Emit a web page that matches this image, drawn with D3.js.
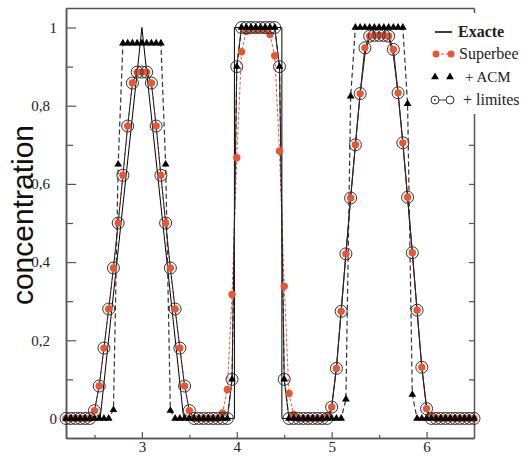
<!DOCTYPE html>
<html>
<head>
<meta charset="utf-8">
<script src="https://cdn.jsdelivr.net/npm/d3@7"></script>
<style>
  body { margin: 0; background: #fff; }
  svg { display: block; }
</style>
</head>
<body>
<svg id="chartSVG" width="527" height="456"></svg>
<script>
// grid points and values
var xGrid = [2.2, 2.25, 2.3, 2.35, 2.4, 2.45, 2.5, 2.55, 2.6, 2.65,
             2.7, 2.75, 2.8, 2.85, 2.9, 2.95, 3.0, 3.05, 3.1, 3.15,
             3.2, 3.25, 3.3, 3.35, 3.4, 3.45, 3.5, 3.55, 3.6, 3.65,
             3.7, 3.75, 3.8, 3.85, 3.9, 3.95, 4.0, 4.05, 4.1, 4.15,
             4.2, 4.25, 4.3, 4.35, 4.4, 4.45, 4.5, 4.55, 4.6, 4.65,
             4.7, 4.75, 4.8, 4.85, 4.9, 4.95, 5.0, 5.05, 5.1, 5.15,
             5.2, 5.25, 5.3, 5.35, 5.4, 5.45, 5.5, 5.55, 5.6, 5.65,
             5.7, 5.75, 5.8, 5.85, 5.9, 5.95, 6.0, 6.05, 6.1, 6.15,
             6.2, 6.25, 6.3, 6.35, 6.4, 6.45, 6.5];

var superbee = [0, 0, 0, 0, 0, 0, 0.02, 0.083, 0.18, 0.28,
                0.385, 0.5, 0.622, 0.748, 0.858, 0.886, 0.886, 0.886, 0.858, 0.748,
                0.622, 0.5, 0.385, 0.28, 0.18, 0.083, 0.02, 0, 0, 0,
                0, 0, 0, 0.014, 0.074, 0.317, 0.667, 0.938, 0.99, 0.995,
                0.995, 0.995, 0.995, 0.982, 0.928, 0.684, 0.338, 0.064, 0.01, 0,
                0, 0, 0, 0, 0, 0.006, 0.029, 0.128, 0.274, 0.421,
                0.564, 0.7, 0.831, 0.948, 0.978, 0.98, 0.98, 0.98, 0.978, 0.944,
                0.833, 0.705, 0.566, 0.424, 0.277, 0.131, 0.025, 0.005, 0, 0,
                0, 0, 0, 0, 0, 0, 0];

var acm = [0, 0, 0, 0, 0, 0, 0, 0, 0, 0,
           0.022, 0.65, 0.96, 0.96, 0.96, 0.96, 0.96, 0.96, 0.96, 0.96,
           0.96, 0.65, 0.02, 0, 0, 0, 0, 0, 0, 0,
           0, 0, 0, 0, 0, 0.1, 0.9, 1, 1, 1,
           1, 1, 1, 1, 1, 0.9, 0.1, 0, 0, 0,
           0, 0, 0, 0, 0, 0, 0, 0, 0, 0.049,
           0.824, 1, 1, 1, 1, 1, 1, 1, 1, 1,
           1, 1, 0.805, 0.061, 0, 0, 0, 0, 0, 0,
           0, 0, 0, 0, 0, 0, 0];

var limites = [0, 0, 0, 0, 0, 0, 0.02, 0.083, 0.18, 0.28,
               0.385, 0.5, 0.622, 0.748, 0.858, 0.886, 0.886, 0.886, 0.858, 0.748,
               0.622, 0.5, 0.385, 0.28, 0.18, 0.083, 0.02, 0, 0, 0,
               0, 0, 0, 0, 0, 0.1, 0.9, 1, 1, 1,
               1, 1, 1, 1, 1, 0.9, 0.1, 0, 0, 0,
               0, 0, 0, 0, 0, 0, 0.029, 0.128, 0.274, 0.421,
               0.564, 0.7, 0.831, 0.948, 0.978, 0.98, 0.98, 0.98, 0.978, 0.944,
               0.833, 0.705, 0.566, 0.424, 0.277, 0.131, 0.025, 0, 0, 0,
               0, 0, 0, 0, 0, 0, 0];

// exact solution (thin solid line)
var exacteX = [2.2, 2.56, 3.0, 3.44, 3.975, 3.975, 4.475, 4.475, 4.98,
               5.0, 5.05, 5.1, 5.15, 5.2, 5.25, 5.3, 5.35, 5.4, 5.45, 5.5,
               5.55, 5.6, 5.65, 5.7, 5.75, 5.8, 5.85, 5.9, 5.95, 6.0, 6.02, 6.5];
var exacteY = [0, 0, 1, 0, 0, 1, 1, 0, 0,
               0.03, 0.13, 0.275, 0.42, 0.565, 0.7, 0.83, 0.93, 0.975, 0.995, 1.0,
               0.995, 0.975, 0.93, 0.83, 0.705, 0.565, 0.425, 0.275, 0.13, 0.03, 0, 0];

var xMajorTicks = [3, 4, 5, 6];
var xMinorTicks = [2.5, 3.5, 4.5, 5.5];
var yMajorTicks = [0, 0.2, 0.4, 0.6, 0.8, 1];
var yTickLabels = ["0", "0,2", "0,4", "0,6", "0,8", "1"];
var yMinorTicks = [0.1, 0.3, 0.5, 0.7, 0.9];
var yRightTicks = [0, 0.1, 0.2, 0.3, 0.4, 0.5, 0.6, 0.7, 0.8, 0.9, 1];
var legendLabels = ["Exacte", "Superbee", "+ ACM", "+ limites"];

var orange = "#ea5533";
var frameColor = "#555";

var svg = d3.select("#chartSVG");

var xScale = d3.scaleLinear().domain([2.2, 6.5]).range([66, 474]);
var yScale = d3.scaleLinear().domain([-0.05, 1.05]).range([438, 8]);

// axes / frame
function styleAxis(g) {
    g.select(".domain").attr("stroke", frameColor).attr("stroke-width", 1.5);
    g.selectAll(".tick line").attr("stroke", frameColor).attr("stroke-width", 1.2);
    g.selectAll("text")
        .attr("font-family", "'Liberation Serif', 'Times New Roman', serif")
        .attr("font-size", 15)
        .attr("fill", "#222");
}

svg.append("g")
    .attr("transform", "translate(0,438)")
    .call(d3.axisBottom(xScale).tickValues(xMajorTicks).tickSize(-6).tickSizeOuter(0)
        .tickPadding(3).tickFormat(d3.format("d")))
    .call(styleAxis);

svg.append("g")
    .attr("transform", "translate(0,438)")
    .call(d3.axisBottom(xScale).tickValues(xMinorTicks).tickSize(-3).tickSizeOuter(0).tickFormat(""))
    .call(styleAxis);

svg.append("g")
    .attr("transform", "translate(0,8)")
    .call(d3.axisTop(xScale).tickValues([]).tickSizeOuter(0))
    .call(styleAxis);

var leftAxis = svg.append("g")
    .attr("transform", "translate(66,0)")
    .call(d3.axisLeft(yScale).tickValues(yMajorTicks).tickSize(-10).tickSizeOuter(0)
        .tickPadding(9).tickFormat(function(d, i){ return yTickLabels[i]; }))
    .call(styleAxis);
// decimal labels sit a bit more to the left in the original
leftAxis.selectAll("text").attr("dx", function(d, i){ return yTickLabels[i].length > 1 ? -7 : 0; });

svg.append("g")
    .attr("transform", "translate(66,0)")
    .call(d3.axisLeft(yScale).tickValues(yMinorTicks).tickSize(-7).tickSizeOuter(0).tickFormat(""))
    .call(styleAxis);

svg.append("g")
    .attr("transform", "translate(474,0)")
    .call(d3.axisRight(yScale).tickValues(yRightTicks).tickSize(-5).tickSizeOuter(0).tickFormat(""))
    .call(styleAxis);

// y label
svg.append("text")
    .attr("transform", "translate(33,215) rotate(-90)")
    .attr("text-anchor", "middle")
    .attr("font-family", "'Liberation Sans', Arial, sans-serif")
    .attr("font-size", 30)
    .attr("fill", "#111")
    .text("concentration");

// lines
var gridLine = d3.line()
    .x(function(d, i){ return xScale(xGrid[i]); })
    .y(function(d){ return yScale(d); });

svg.append("path")
    .datum(exacteY)
    .attr("fill", "none")
    .attr("stroke", "#000")
    .attr("stroke-width", 1)
    .attr("d", d3.line()
        .x(function(d, i){ return xScale(exacteX[i]); })
        .y(function(d){ return yScale(d); }));

svg.append("path")
    .datum(superbee)
    .attr("fill", "none")
    .attr("stroke", orange)
    .attr("stroke-width", 1)
    .attr("stroke-dasharray", "3,2")
    .attr("d", gridLine);

svg.append("path")
    .datum(acm)
    .attr("fill", "none")
    .attr("stroke", "#333")
    .attr("stroke-width", 1.2)
    .attr("stroke-dasharray", "5,3")
    .attr("d", gridLine);

svg.append("path")
    .datum(limites)
    .attr("fill", "none")
    .attr("stroke", "#222")
    .attr("stroke-width", 1)
    .attr("d", gridLine);

// markers
svg.selectAll(".sb")
    .data(superbee).enter()
    .append("circle")
    .attr("class", "sb")
    .attr("cx", function(d, i){ return xScale(xGrid[i]); })
    .attr("cy", function(d){ return yScale(d); })
    .attr("r", 3.7)
    .attr("fill", orange);

svg.selectAll(".lim")
    .data(limites).enter()
    .append("circle")
    .attr("class", "lim")
    .attr("cx", function(d, i){ return xScale(xGrid[i]); })
    .attr("cy", function(d){ return yScale(d); })
    .attr("r", 6)
    .attr("fill", "none")
    .attr("stroke", "#333")
    .attr("stroke-width", 1);

var tri = d3.symbol().type(d3.symbolTriangle).size(26);

svg.selectAll(".acm")
    .data(acm).enter()
    .append("path")
    .attr("class", "acm")
    .attr("d", tri)
    .attr("transform", function(d, i){ return "translate(" + xScale(xGrid[i]) + "," + yScale(d) + ")"; })
    .attr("fill", "#000");

// legend (white box covers the right frame)
var legend = svg.append("g").attr("class", "legend");
legend.append("rect")
    .attr("x", 428).attr("y", 13)
    .attr("width", 99).attr("height", 101)
    .attr("fill", "#fff");

var rowY = [32, 54, 77, 100];

legend.append("line")
    .attr("x1", 435).attr("x2", 452)
    .attr("y1", rowY[0]).attr("y2", rowY[0])
    .attr("stroke", "#000").attr("stroke-width", 1.5);

legend.append("line")
    .attr("x1", 436).attr("x2", 451)
    .attr("y1", rowY[1]).attr("y2", rowY[1])
    .attr("stroke", orange).attr("stroke-width", 1).attr("stroke-dasharray", "3,2");
legend.selectAll(".lsb")
    .data([436, 451]).enter()
    .append("circle")
    .attr("class", "lsb")
    .attr("cx", function(d){ return d; })
    .attr("cy", rowY[1])
    .attr("r", 3.5)
    .attr("fill", orange);

legend.selectAll(".lacm")
    .data([435, 450]).enter()
    .append("path")
    .attr("class", "lacm")
    .attr("d", tri)
    .attr("transform", function(d){ return "translate(" + d + "," + rowY[2] + ")"; })
    .attr("fill", "#000");

legend.append("line")
    .attr("x1", 439).attr("x2", 446)
    .attr("y1", rowY[3]).attr("y2", rowY[3])
    .attr("stroke", "#333").attr("stroke-width", 1);
legend.selectAll(".llim")
    .data([435, 450]).enter()
    .append("circle")
    .attr("class", "llim")
    .attr("cx", function(d){ return d; })
    .attr("cy", rowY[3])
    .attr("r", 4)
    .attr("fill", "none")
    .attr("stroke", "#333")
    .attr("stroke-width", 1);
legend.append("circle")
    .attr("cx", 435).attr("cy", rowY[3]).attr("r", 0.9).attr("fill", "#333");

var textX = [458, 459, 465, 463];
legend.selectAll(".ltext")
    .data(legendLabels).enter()
    .append("text")
    .attr("class", "ltext")
    .attr("x", function(d, i){ return textX[i]; })
    .attr("y", function(d, i){ return rowY[i] + 5; })
    .attr("font-family", "'Liberation Serif', 'Times New Roman', serif")
    .attr("font-size", function(d, i){ return i == 2 ? 15 : 16; })
    .attr("font-weight", function(d, i){ return i == 0 ? "bold" : "normal"; })
    .attr("fill", "#222")
    .text(function(d){ return d; });
</script>
</body>
</html>
